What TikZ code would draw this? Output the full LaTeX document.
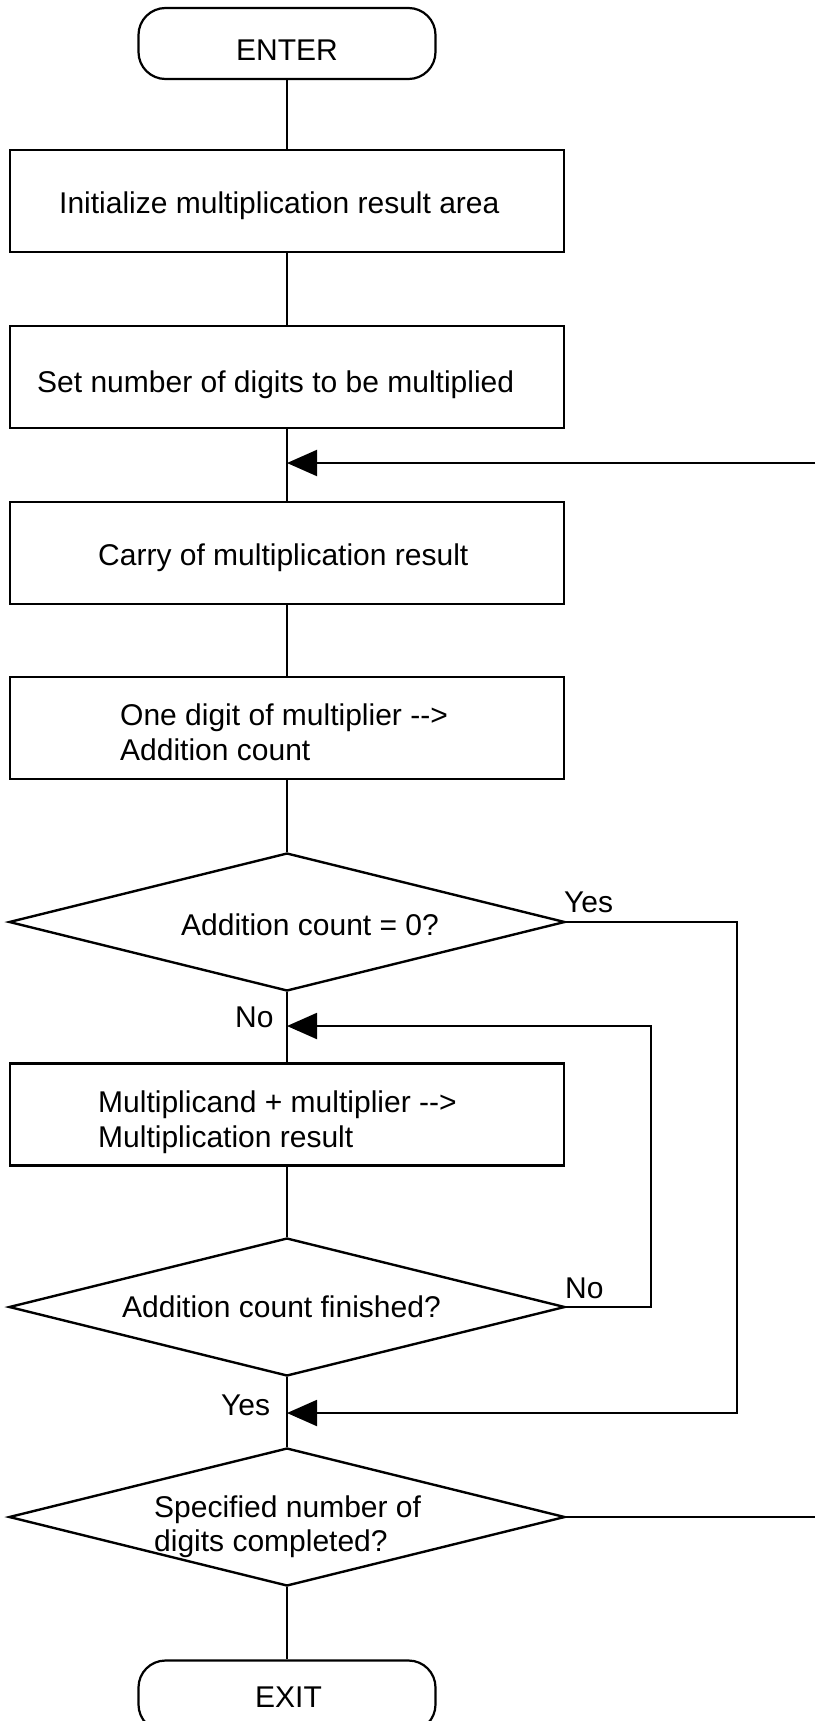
\documentclass[tikz,border=0pt]{standalone}
\usepackage{fontspec}
\setmainfont{Liberation Sans}
\usetikzlibrary{shapes.geometric,arrows.meta}
\begin{document}
\begin{tikzpicture}[x=1pt,y=-1pt,
  font=\fontsize{30}{35}\selectfont,
  flow/.style={line width=2pt},
  backarrow/.style={flow, -{Triangle[length=30pt,width=26pt]}},
  procbox/.style={draw, line width=2.4pt, minimum width=554pt, minimum height=102pt, inner sep=0pt},
  term/.style={draw, line width=2.2pt, rounded corners=27pt, minimum width=297pt, minimum height=71pt, inner sep=0pt},
  decide/.style={draw, diamond, line width=2.4pt, minimum width=556pt, minimum height=138pt, inner sep=0pt},
  txt/.style={inner sep=0pt, anchor=base west},
]
\useasboundingbox (0,0) rectangle (815,1721);
\fill[white] (0,0) rectangle (815,1721);

% shapes
\node[term]    (enter) at (287,43.5)  {};
\node[procbox] (b1)    at (287,201)   {};
\node[procbox] (b2)    at (287,377)   {};
\node[procbox] (b3)    at (287,553)   {};
\node[procbox] (b4)    at (287,728)   {};
\node[decide]  (d1)    at (287,922)   {};
\node[procbox] (b5)    at (287,1114.5){};
\node[decide]  (d2)    at (287,1307)  {};
\node[decide]  (d3)    at (287,1517)  {};
\node[term]    (exit)  at (287,1696)  {};

% texts
\node[txt] (tenter) at (236,60)   {ENTER};
\node[txt] (t1)     at (59,213)   {Initialize multiplication result area};
\node[txt] (t2)     at (37,392)   {Set number of digits to be multiplied};
\node[txt] (t3)     at (98,565)   {Carry of multiplication result};
\node[txt] (t4a)    at (120,725)  {One digit of multiplier -{}->};
\node[txt] (t4b)    at (120,760)  {Addition count};
\node[txt] (td1)    at (181,935)  {Addition count = 0?};
\node[txt] (t5a)    at (98,1112)  {Multiplicand + multiplier -{}->};
\node[txt] (t5b)    at (98,1147)  {Multiplication result};
\node[txt] (td2)    at (122,1317) {Addition count finished?};
\node[txt] (td3a)   at (154,1517) {Specified number of};
\node[txt] (td3b)   at (154,1551) {digits completed?};
\node[txt] (texit)  at (255,1707) {EXIT};

% branch labels
\node[txt] (yes1) at (564,912)  {Yes};
\node[txt] (no1)  at (235,1027) {No};
\node[txt] (no2)  at (565,1298) {No};
\node[txt] (yes2) at (221,1415) {Yes};

% main flow
\draw[flow] (enter) -- (b1);
\draw[flow] (b1) -- (b2);
\draw[flow] (b2) -- (b3);
\draw[flow] (b3) -- (b4);
\draw[flow] (b4) -- (d1);
\draw[flow] (d1) -- (b5);
\draw[flow] (b5) -- (d2);
\draw[flow] (d2) -- (d3);
\draw[flow] (d3) -- (exit);

% outer loop: leaves to the right and re-enters above b3
\coordinate (outR) at (815,1517);
\draw[flow] (d3.east) -- (outR);
\coordinate (inR) at (815,463);
\draw[backarrow] (inR) -- (inR -| b2.south);

% Yes branch of d1 skips to d3
\coordinate (yescol) at (737,1413);
\draw[backarrow] (d1.east) -| (yescol) -- (yescol -| d2.south);

% No branch of d2 loops back above b5
\coordinate (nocol) at (651,1026);
\draw[backarrow] (d2.east) -| (nocol) -- (nocol -| d1.south);
\end{tikzpicture}
\end{document}
